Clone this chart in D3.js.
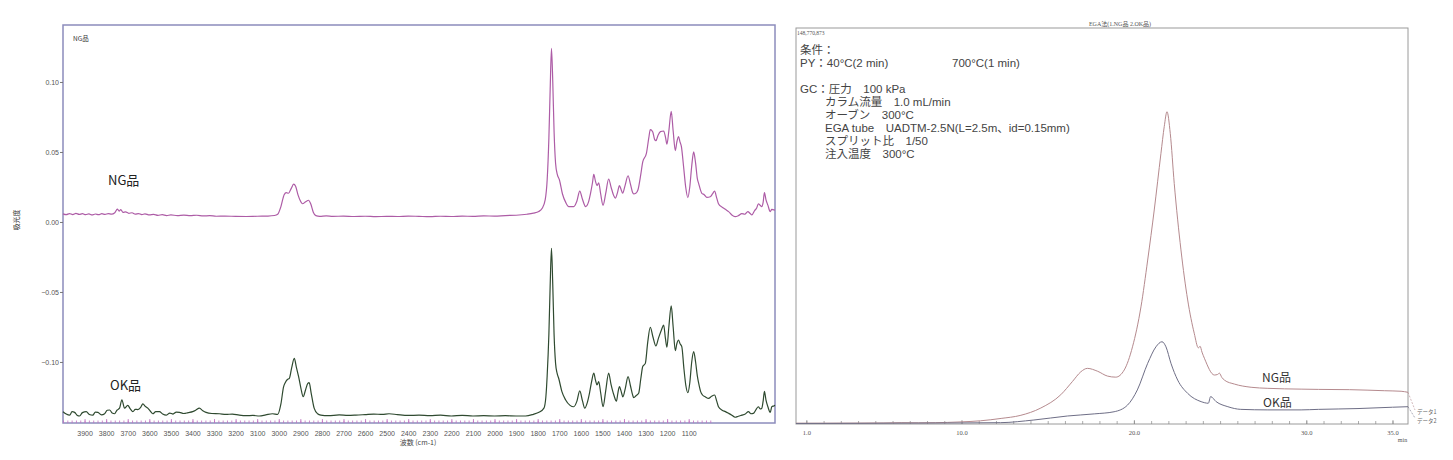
<!DOCTYPE html>
<html><head><meta charset="utf-8">
<script src="https://cdn.jsdelivr.net/npm/d3@7"></script>
<style>
body{margin:0;background:#fff;}
svg{display:block;}
text{font-family:"Liberation Sans","Noto Sans CJK JP",sans-serif;}
.jp{font-family:"Noto Sans CJK JP","Liberation Sans",sans-serif;}
.serif{font-family:"Liberation Serif","Noto Sans CJK JP",serif;}
</style></head>
<body>
<svg id="c" width="1453" height="460"></svg>
<script>
// ===== Left chart: IR spectra (wavenumber cm-1, absorbance) =====
const irTicks = [3900,3800,3700,3600,3500,3400,3300,3200,3100,3000,2900,2800,2700,2600,2500,2400,2300,2200,2100,2000,1900,1800,1700,1600,1500,1400,1300,1200,1100];
const irYTicks = [0.10,0.05,0.00,-0.05,-0.10];
const irNG = [[4000,0.0058],[3985,0.0052],[3970,0.006],[3955,0.0053],[3940,0.0061],[3925,0.0054],[3910,0.0059],[3895,0.0052],[3880,0.0058],[3865,0.005],[3850,0.0057],[3835,0.0052],[3820,0.0059],[3805,0.0054],[3790,0.006],[3775,0.0056],[3760,0.0066],[3748,0.0092],[3740,0.0078],[3732,0.0088],[3722,0.0068],[3710,0.0072],[3695,0.0062],[3680,0.0066],[3665,0.0056],[3650,0.006],[3635,0.0053],[3620,0.0058],[3600,0.005],[3580,0.0054],[3560,0.0047],[3540,0.0052],[3520,0.0046],[3500,0.005],[3470,0.0046],[3440,0.0049],[3410,0.0045],[3380,0.0048],[3350,0.0043],[3320,0.0045],[3290,0.0041],[3250,0.0042],[3200,0.004],[3150,0.0039],[3100,0.0041],[3050,0.0042],[3020,0.0046],[3005,0.0055],[2990,0.011],[2975,0.0195],[2965,0.021],[2955,0.0205],[2942,0.024],[2931,0.027],[2922,0.0255],[2910,0.019],[2898,0.0145],[2890,0.013],[2875,0.0145],[2862,0.0155],[2852,0.013],[2840,0.007],[2828,0.0045],[2810,0.004],[2780,0.0043],[2750,0.004],[2700,0.0042],[2650,0.0039],[2600,0.0041],[2550,0.0038],[2500,0.004],[2450,0.0039],[2400,0.0042],[2350,0.004],[2300,0.0038],[2250,0.0041],[2200,0.0039],[2150,0.0042],[2100,0.004],[2050,0.0043],[2000,0.0042],[1950,0.0046],[1900,0.0048],[1850,0.0055],[1820,0.0063],[1795,0.0075],[1779,0.0098],[1765,0.016],[1756,0.030],[1748,0.06],[1742,0.095],[1736,0.124],[1730,0.10],[1724,0.065],[1717,0.042],[1709,0.034],[1699,0.030],[1685,0.02],[1670,0.014],[1656,0.011],[1633,0.011],[1618,0.015],[1605,0.022],[1592,0.016],[1578,0.011],[1565,0.014],[1555,0.0205],[1546,0.028],[1540,0.034],[1532,0.029],[1525,0.026],[1517,0.028],[1508,0.02],[1497,0.012],[1485,0.02],[1471,0.0307],[1460,0.025],[1448,0.019],[1440,0.017],[1430,0.021],[1421,0.026],[1413,0.023],[1406,0.0205],[1395,0.026],[1381,0.033],[1370,0.027],[1360,0.021],[1355,0.020],[1345,0.0205],[1335,0.023],[1322,0.034],[1313,0.043],[1296,0.049],[1285,0.06],[1278,0.066],[1267,0.0645],[1258,0.059],[1252,0.058],[1242,0.062],[1231,0.0645],[1216,0.065],[1207,0.06],[1201,0.0555],[1192,0.065],[1181,0.079],[1172,0.065],[1162,0.051],[1155,0.057],[1147,0.061],[1140,0.057],[1134,0.054],[1124,0.04],[1114,0.025],[1104,0.0174],[1095,0.025],[1086,0.04],[1077,0.050],[1068,0.042],[1060,0.031],[1054,0.0276],[1039,0.0205],[1028,0.0195],[1016,0.0176],[1000,0.018],[990,0.02],[980,0.022],[970,0.017],[962,0.013],[945,0.0105],[930,0.009],[915,0.0074],[900,0.005],[885,0.0038],[870,0.0045],[854,0.006],[840,0.0055],[826,0.0074],[815,0.006],[807,0.005],[795,0.008],[785,0.01],[777,0.013],[769,0.012],[761,0.011],[755,0.014],[749,0.021],[742,0.016],[733,0.012],[722,0.0074],[715,0.009],[705,0.0086],[700,0.0085]];
const irOK = [[4000,-0.1355],[3985,-0.1372],[3969,-0.138],[3958,-0.1355],[3946,-0.136],[3935,-0.138],[3923,-0.1386],[3910,-0.1362],[3892,-0.1355],[3878,-0.1375],[3862,-0.138],[3850,-0.1358],[3838,-0.136],[3822,-0.1378],[3807,-0.137],[3795,-0.1345],[3784,-0.1343],[3772,-0.1365],[3761,-0.137],[3750,-0.1345],[3738,-0.133],[3727,-0.127],[3715,-0.133],[3700,-0.131],[3688,-0.1335],[3676,-0.1355],[3665,-0.1338],[3653,-0.134],[3640,-0.1325],[3630,-0.130],[3618,-0.1318],[3607,-0.133],[3595,-0.1352],[3584,-0.137],[3570,-0.1355],[3553,-0.1355],[3538,-0.1372],[3522,-0.138],[3505,-0.1365],[3490,-0.1372],[3475,-0.1358],[3460,-0.136],[3440,-0.1368],[3420,-0.1362],[3399,-0.1355],[3385,-0.1345],[3368,-0.133],[3352,-0.1348],[3337,-0.136],[3310,-0.1368],[3275,-0.137],[3245,-0.1375],[3215,-0.1372],[3183,-0.138],[3150,-0.1384],[3120,-0.1382],[3090,-0.1386],[3060,-0.1378],[3029,-0.137],[3005,-0.1375],[2990,-0.130],[2978,-0.118],[2970,-0.1148],[2960,-0.1125],[2951,-0.1117],[2940,-0.104],[2928,-0.0974],[2918,-0.104],[2908,-0.1105],[2897,-0.119],[2887,-0.1248],[2875,-0.1195],[2866,-0.1155],[2859,-0.1148],[2850,-0.122],[2836,-0.133],[2820,-0.137],[2805,-0.138],[2770,-0.1384],[2720,-0.1378],[2680,-0.1382],[2643,-0.138],[2600,-0.1376],[2560,-0.1372],[2520,-0.1375],[2489,-0.137],[2450,-0.1376],[2400,-0.1382],[2350,-0.138],[2300,-0.1384],[2250,-0.138],[2200,-0.1386],[2150,-0.1382],[2100,-0.1386],[2050,-0.1384],[2000,-0.1386],[1950,-0.1384],[1900,-0.1386],[1856,-0.1386],[1820,-0.1374],[1794,-0.136],[1771,-0.133],[1762,-0.125],[1756,-0.110],[1748,-0.08],[1742,-0.045],[1736,-0.0188],[1730,-0.045],[1724,-0.08],[1717,-0.101],[1710,-0.108],[1702,-0.112],[1688,-0.121],[1671,-0.127],[1650,-0.131],[1633,-0.132],[1618,-0.128],[1605,-0.1207],[1592,-0.128],[1582,-0.133],[1570,-0.129],[1560,-0.1224],[1550,-0.114],[1540,-0.108],[1532,-0.113],[1525,-0.1164],[1517,-0.114],[1508,-0.122],[1497,-0.132],[1485,-0.121],[1471,-0.108],[1460,-0.116],[1446,-0.124],[1435,-0.128],[1428,-0.122],[1421,-0.1176],[1413,-0.121],[1405,-0.125],[1394,-0.119],[1381,-0.1105],[1370,-0.117],[1360,-0.1235],[1355,-0.1255],[1343,-0.124],[1332,-0.1224],[1322,-0.112],[1313,-0.1033],[1301,-0.101],[1290,-0.086],[1278,-0.0752],[1266,-0.082],[1252,-0.0886],[1240,-0.083],[1226,-0.077],[1216,-0.0736],[1208,-0.083],[1201,-0.0895],[1192,-0.075],[1181,-0.060],[1172,-0.075],[1162,-0.092],[1155,-0.087],[1147,-0.0843],[1140,-0.087],[1132,-0.089],[1122,-0.105],[1113,-0.117],[1104,-0.122],[1095,-0.115],[1086,-0.1],[1077,-0.0926],[1068,-0.1],[1060,-0.11],[1054,-0.115],[1045,-0.121],[1036,-0.1236],[1022,-0.125],[1008,-0.126],[994,-0.1245],[980,-0.1236],[970,-0.128],[962,-0.132],[945,-0.1345],[930,-0.1355],[915,-0.1367],[900,-0.138],[885,-0.1395],[870,-0.1388],[854,-0.138],[838,-0.1372],[823,-0.1355],[812,-0.137],[800,-0.1367],[788,-0.134],[777,-0.132],[769,-0.1335],[761,-0.133],[755,-0.128],[749,-0.121],[742,-0.127],[733,-0.132],[722,-0.136],[715,-0.132],[705,-0.1314],[700,-0.131]];

// ===== Right chart: EGA thermograms (time min, intensity ×10^6) =====
const egaTicks = [1.0,10.0,20.0,30.0,35.0];
const egaMax = 148.770873;
const egaNG = [[0.4,0.3],[2,0.3],[4,0.35],[5.5,0.4],[6.5,0.5],[7.5,0.45],[8.5,0.5],[9.2,0.6],[10,0.8],[11.1,1.2],[12.3,2.1],[13.4,3.2],[14.6,6.0],[15.76,11.0],[16.44,16.0],[16.92,19.6],[17.3,20.9],[17.9,19.8],[18.47,18.0],[18.95,17.6],[19.44,20.3],[19.92,29],[20.41,44],[20.8,61.6],[21.18,80.4],[21.57,101.7],[21.76,111.7],[21.92,117.3],[22.11,109.2],[22.34,90.4],[22.73,65.4],[23.12,46.6],[23.5,34.1],[23.74,28.6],[23.84,29.2],[23.95,27],[24.09,24.7],[24.67,18.4],[24.85,18.6],[24.96,19.1],[25.1,17.5],[25.25,16.5],[25.83,15],[26.8,13.8],[27.77,13.4],[29.7,13.1],[30.7,13.0],[32.5,12.9],[34.55,12.5],[35.5,12.3],[35.9,11.9]];
const egaOK = [[0.4,0.2],[4,0.25],[6,0.3],[8,0.35],[10,0.4],[12.27,0.5],[14.2,1.5],[16.14,3.0],[17.7,3.8],[18.85,4.6],[19.63,7.1],[20.2,12.8],[20.8,22.8],[21.28,29],[21.63,30.9],[21.86,29],[22.15,22.8],[22.54,16.5],[23.12,11.5],[23.9,8.4],[24.32,7.8],[24.45,10.3],[24.77,8.4],[25.45,6.5],[26.2,5.5],[27.77,5.3],[29.7,5.3],[30.7,5.5],[33,5.8],[35,6.3],[35.9,6.5]];
const conditions = [
  {t:"条件：", dx:0},
  {t:"PY：40°C(2 min)", dx:0, t2:"700°C(1 min)"},
  {t:"", dx:0},
  {t:"GC：圧力　100 kPa", dx:0},
  {t:"カラム流量　1.0 mL/min", dx:25},
  {t:"オーブン　300°C", dx:25},
  {t:"EGA tube　UADTM-2.5N(L=2.5m、id=0.15mm)", dx:25},
  {t:"スプリット比　1/50", dx:25},
  {t:"注入温度　300°C", dx:25}
];

const svg = d3.select("#c");
svg.append("rect").attr("width",1453).attr("height",460).attr("fill","#fff");

// ---------- Left ----------
const L = {l:63, r:775, t:25, b:423};
const xL = d3.scaleLinear().domain([4000,700]).range([L.l,L.r]);
const yL = d3.scaleLinear().domain([-0.1436,0.1407]).range([L.b,L.t]);
const frameCol = "#8c8cbc";
svg.append("rect").attr("x",L.l).attr("y",L.t).attr("width",L.r-L.l).attr("height",L.b-L.t)
  .attr("fill","none").attr("stroke",frameCol).attr("stroke-width",1.5);

const gyL = svg.append("g").attr("transform",`translate(${L.l},0)`)
  .call(d3.axisLeft(yL).tickValues(irYTicks).tickFormat(d3.format(".2f")).tickSize(3).tickPadding(1));
gyL.select(".domain").remove();
gyL.selectAll("line").attr("stroke","#777");
gyL.selectAll("text").attr("font-size",7).attr("fill","#555");

const gxMinor = svg.append("g").attr("transform",`translate(0,${L.b})`)
  .call(d3.axisBottom(xL).tickValues(d3.range(4000,999,-20)).tickSize(-2.5).tickFormat(""));
gxMinor.select(".domain").remove();
gxMinor.selectAll("line").attr("stroke","#c070c0").attr("stroke-width",0.8);
const gxL = svg.append("g").attr("transform",`translate(0,${L.b})`)
  .call(d3.axisBottom(xL).tickValues(irTicks).tickSize(-4).tickPadding(8).tickFormat(d3.format("d")));
gxL.select(".domain").remove();
gxL.selectAll("line").attr("stroke","#c070c0").attr("stroke-width",0.8);
gxL.selectAll("text").attr("font-size",7).attr("fill","#555");

svg.append("text").attr("class","jp").attr("x",418).attr("y",445).attr("text-anchor","middle")
  .attr("font-size",7).attr("fill","#444").text("波数 (cm-1)");
svg.append("text").attr("class","jp").attr("transform","translate(19,220) rotate(-90)").attr("text-anchor","middle")
  .attr("font-size",7).attr("fill","#333").text("吸光度");
svg.append("text").attr("class","jp").attr("x",73).attr("y",41).attr("font-size",6.5).attr("fill","#333").text("NG品");

const lineL = d3.line().x(d=>xL(d[0])).y(d=>yL(d[1])).curve(d3.curveMonotoneX);
svg.append("path").datum(irNG).attr("d",lineL).attr("fill","none").attr("stroke","#ad5ca6").attr("stroke-width",1.2);
svg.append("path").datum(irOK).attr("d",lineL).attr("fill","none").attr("stroke","#2f4a30").attr("stroke-width",1.2);

svg.append("text").attr("class","jp").attr("x",108).attr("y",185).attr("font-size",13).attr("fill","#222").text("NG品");
svg.append("text").attr("class","jp").attr("x",110).attr("y",390).attr("font-size",13).attr("fill","#222").text("OK品");

// ---------- Right ----------
const R = {l:796, r:1408, t:28, b:424};
const xR = d3.scaleLinear().domain([0.4,35.9]).range([R.l,R.r]);
const yR = d3.scaleLinear().domain([0,egaMax]).range([R.b,R.t]);
svg.append("rect").attr("x",R.l).attr("y",R.t).attr("width",R.r-R.l).attr("height",R.b-R.t)
  .attr("fill","none").attr("stroke","#9a9a9a").attr("stroke-width",1);

const gxRm = svg.append("g").attr("transform",`translate(0,${R.b})`)
  .call(d3.axisBottom(xR).tickValues(d3.range(1,36,1)).tickSize(-3).tickFormat(""));
gxRm.select(".domain").remove();
gxRm.selectAll("line").attr("stroke","#888").attr("stroke-width",0.7);
const gxR = svg.append("g").attr("transform",`translate(0,${R.b})`)
  .call(d3.axisBottom(xR).tickValues(egaTicks).tickSize(-4).tickPadding(6).tickFormat(d3.format(".1f")));
gxR.select(".domain").remove();
gxR.selectAll("line").attr("stroke","#888").attr("stroke-width",0.7);
gxR.selectAll("text").attr("class","serif").attr("font-size",6.5).attr("fill","#555");
svg.append("text").attr("class","serif").attr("x",xR(35.0)+10).attr("y",442).attr("text-anchor","middle")
  .attr("font-size",6).attr("fill","#555").text("min");

svg.append("text").attr("class","serif").attr("x",1120).attr("y",26).attr("text-anchor","middle")
  .attr("font-size",6).attr("fill","#555").text("EGA法(1.NG品  2.OK品)");
svg.append("text").attr("class","serif").attr("x",R.l+1).attr("y",35)
  .attr("font-size",5.5).attr("fill","#555").text(d3.format(",")(Math.round(egaMax*1e6)));

const lineR = d3.line().x(d=>xR(d[0])).y(d=>yR(d[1])).curve(d3.curveMonotoneX);
svg.append("path").datum(egaNG).attr("d",lineR).attr("fill","none").attr("stroke","#b58a8e").attr("stroke-width",1);
svg.append("path").datum(egaOK).attr("d",lineR).attr("fill","none").attr("stroke","#6e6e86").attr("stroke-width",1);

// legend tails
const lastNG = egaNG[egaNG.length-1], lastOK = egaOK[egaOK.length-1];
svg.append("line").attr("x1",xR(lastNG[0])).attr("y1",yR(lastNG[1])).attr("x2",R.r+7).attr("y2",410)
  .attr("stroke","#b58a8e").attr("stroke-width",0.6).attr("stroke-dasharray","2,1.5");
svg.append("line").attr("x1",xR(lastOK[0])).attr("y1",yR(lastOK[1])).attr("x2",R.r+7).attr("y2",418)
  .attr("stroke","#6e6e86").attr("stroke-width",0.6).attr("stroke-dasharray","2,1.5");
svg.append("text").attr("class","jp").attr("x",R.r+9).attr("y",414).attr("font-size",5.5).attr("fill","#666").text("データ1");
svg.append("text").attr("class","jp").attr("x",R.r+9).attr("y",423).attr("font-size",5.5).attr("fill","#666").text("データ2");

svg.append("text").attr("class","jp").attr("x",1262).attr("y",382).attr("font-size",12).attr("fill","#333").text("NG品");
svg.append("text").attr("class","jp").attr("x",1263).attr("y",407).attr("font-size",12).attr("fill","#333").text("OK品");

const tb = svg.append("g").attr("class","jp").attr("font-size",11.5).attr("fill","#444");
conditions.forEach((c,i)=>{
  const y = 54 + i*13;
  if(c.t) tb.append("text").attr("x",800+c.dx).attr("y",y).text(c.t);
  if(c.t2) tb.append("text").attr("x",952).attr("y",y).text(c.t2);
});
</script>
</body></html>
